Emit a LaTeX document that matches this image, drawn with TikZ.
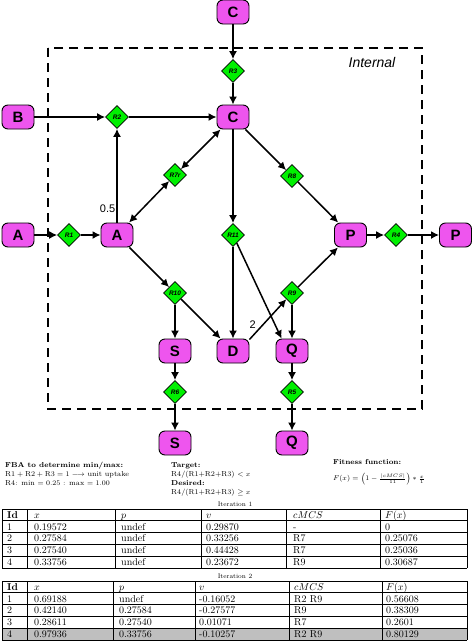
\documentclass[tikz,border=0pt]{standalone}
\usepackage{fontspec}
\newfontfamily\hv{Liberation Sans}
\usetikzlibrary{arrows.meta,shapes.geometric}
\definecolor{spec}{RGB}{238,85,238}
\definecolor{rxn}{RGB}{0,240,0}
\newcommand\cellrow[7]{%
  \node[cell] at (\ca,#1) {#2};
  \node[cell] at (\cb,#1) {#3};
  \node[cell] at (\cc,#1) {#4};
  \node[cell] at (\cd,#1) {#5};
  \node[cell] at (\ce,#1) {#6};
  \node[cell] at (\cf,#1) {#7};}
\begin{document}
\begin{tikzpicture}[x=1pt,y=-1pt,
  species/.style={draw=black,line width=0.9pt,fill=spec,rounded corners=6pt,
    minimum width=32pt,minimum height=24pt,inner sep=0pt,
    font=\hv\bfseries\fontsize{15}{15}\selectfont},
  reaction/.style={diamond,draw=black,line width=0.7pt,fill=rxn,
    minimum width=23pt,minimum height=23pt,inner sep=0pt,
    font=\hv\bfseries\itshape\fontsize{6.5}{6.5}\selectfont},
  arr/.style={line width=1.5pt,-{Latex[length=8pt,width=8pt]}},
  darr/.style={line width=1.5pt,{Latex[length=8pt,width=8pt]}-{Latex[length=8pt,width=8pt]}},
  compartment/.style={line width=1.3pt,dash pattern=on 9pt off 6pt},
  edgelabel/.style={font=\hv\fontsize{11}{11}\selectfont,inner sep=1pt},
  txt/.style={anchor=base west,inner sep=0pt,font=\fontsize{7.2}{9}\selectfont},
  cell/.style={anchor=base west,inner sep=0pt,font=\fontsize{10}{12}\selectfont},
  tabline/.style={line width=0.8pt},
  caption/.style={inner sep=0pt,font=\fontsize{6.5}{7}\selectfont}
]
\useasboundingbox (0,0) rectangle (473,643);

% compartment
\draw[compartment] (48,48) rectangle (422,409);
\node[font=\hv\itshape\fontsize{14}{14}\selectfont] (internal) at (372,62) {Internal};

% species
\node[species] (Ctop) at (233,12) {C};
\node[species] (B) at (18,117) {B};
\node[species] (Cm) at (233,117) {C};
\node[species] (Al) at (18,235) {A};
\node[species] (Am) at (117,235) {A};
\node[species] (Pm) at (350.5,235) {P};
\node[species] (Pr) at (455.5,235) {P};
\node[species] (S) at (175,351) {S};
\node[species] (D) at (233,351) {D};
\node[species] (Q) at (292,351) {Q};
\node[species] (Sb) at (175,443) {S};
\node[species] (Qb) at (292,443) {Q};

% reactions
\node[reaction] (R3) at (233,71) {R3};
\node[reaction] (R2) at (117,117) {R2};
\node[reaction] (R7r) at (175,175) {R7r};
\node[reaction] (R1) at (69,235) {R1};
\node[reaction] (R11) at (233,235) {R11};
\node[reaction] (R8) at (292,176) {R8};
\node[reaction] (R4) at (396,235) {R4};
\node[reaction] (R10) at (175,293) {R10};
\node[reaction] (R9) at (292,293) {R9};
\node[reaction] (R6) at (175,392) {R6};
\node[reaction] (R5) at (292,392) {R5};

% connectors
\draw[arr] (Ctop) -- (R3);
\draw[arr] (R3) -- (Cm);
\draw[arr] (B) -- (R2);
\draw[arr] (R2) -- (Cm);
\draw[arr] (Al) -- (R1);
\draw[arr] (R1) -- (Am);
\draw[arr] (Am) -- node[edgelabel,pos=0.15,left] (half) {0.5} (R2);
\draw[darr] (Am) -- (R7r);
\draw[darr] (R7r) -- (Cm);
\draw[arr] (Cm) -- (R11);
\draw[arr] (R11) -- (D);
\draw[arr] (R11) -- (Q.130);
\draw[arr] (Cm) -- (R8);
\draw[arr] (R8) -- (Pm);
\draw[arr] (Pm) -- (R4);
\draw[arr] (R4) -- (Pr);
\draw[arr] (Am) -- (R10);
\draw[arr] (R10) -- (S);
\draw[arr] (R10) -- (D);
\draw[arr] (D.35) -- node[edgelabel,pos=0.22,above left=0pt] (two) {2} (R9);
\draw[arr] (R9) -- (Pm);
\draw[arr] (R9) -- (Q);
\draw[arr] (S) -- (R6);
\draw[arr] (R6) -- (Sb);
\draw[arr] (Q) -- (R5);
\draw[arr] (R5) -- (Qb);

% notes
\node[txt] (fba1) at (5,467.5) {\bfseries FBA to determine min/max:};
\node[txt] (fba2) at (5,476.5) {$\mathrm{R1}+\mathrm{R2}+\mathrm{R3}=1\longrightarrow$ unit uptake};
\node[txt] (fba3) at (5,485.5) {R4: min $=0.25$ : max $=1.00$};
\node[txt] (tg1) at (171,467.5) {\bfseries Target:};
\node[txt] (tg2) at (171,476.5) {R4/(R1+R2+R3) $<x$};
\node[txt] (tg3) at (171,485.5) {\bfseries Desired:};
\node[txt] (tg4) at (171,494.5) {R4/(R1+R2+R3) $\geq x$};
\node[txt] (ff1) at (333,464.5) {\bfseries Fitness function:};
\node[txt,anchor=west] (ff2) at (333,479) {$F(x)=\left(1-\frac{|cMCS|}{11}\right)*\frac{x}{1}$};

% table 1
\node[caption] (cap1) at (235,504) {Iteration 1};
\foreach \i in {0,...,5} \draw[tabline] (2,{509+\i*11.8}) -- (467,{509+\i*11.8});
\foreach \x in {2,27,115,201,286,380,467} \draw[tabline] (\x,509) -- (\x,568);
\def\ca{7}\def\cb{34}\def\cc{121}\def\cd{206}\def\ce{293}\def\cf{385}
\cellrow{518.2}{\bfseries Id}{$x$}{$p$}{$v$}{$cMCS$}{$F(x)$}
\cellrow{530.0}{1}{0.19572}{undef}{0.29870}{-}{0}
\cellrow{541.8}{2}{0.27584}{undef}{0.33256}{R7}{0.25076}
\cellrow{553.6}{3}{0.27540}{undef}{0.44428}{R7}{0.25036}
\cellrow{565.4}{4}{0.33756}{undef}{0.23672}{R9}{0.30687}

% table 2
\node[caption] (cap2) at (235,576) {Iteration 2};
\fill[gray!50] (2,628.2) rectangle (467,640);
\foreach \i in {0,...,5} \draw[tabline] (2,{581+\i*11.8}) -- (467,{581+\i*11.8});
\foreach \x in {2,27,113,195,289,382,467} \draw[tabline] (\x,581) -- (\x,640);
\def\ca{7}\def\cb{34}\def\cc{119}\def\cd{199}\def\ce{294}\def\cf{386}
\cellrow{590.2}{\bfseries Id}{$x$}{$p$}{$v$}{$cMCS$}{$F(x)$}
\cellrow{602.0}{1}{0.69188}{undef}{-0.16052}{R2 R9}{0.56608}
\cellrow{613.8}{2}{0.42140}{0.27584}{-0.27577}{R9}{0.38309}
\cellrow{625.6}{3}{0.28611}{0.27540}{0.01071}{R7}{0.2601}
\cellrow{637.4}{4}{0.97936}{0.33756}{-0.10257}{R2 R9}{0.80129}
\end{tikzpicture}
\end{document}
